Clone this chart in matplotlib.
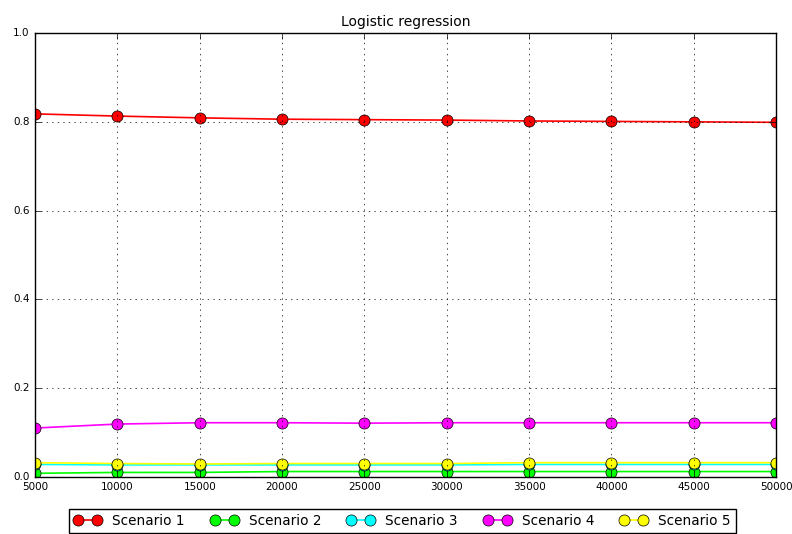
import matplotlib
matplotlib.use("Agg")
import matplotlib.pyplot as plt

plt.style.use('classic')

sizes = [5000, 10000, 15000, 20000, 25000, 30000, 35000, 40000, 45000, 50000]
scenario1 = [0.818, 0.813, 0.809, 0.806, 0.805, 0.804, 0.802, 0.801, 0.800, 0.799]
scenario2 = [0.008, 0.010, 0.010, 0.012, 0.012, 0.012, 0.012, 0.012, 0.012, 0.012]
scenario3 = [0.028, 0.027, 0.027, 0.027, 0.027, 0.027, 0.028, 0.028, 0.028, 0.028]
scenario4 = [0.110, 0.119, 0.122, 0.122, 0.121, 0.122, 0.122, 0.122, 0.122, 0.122]
scenario5 = [0.032, 0.030, 0.029, 0.030, 0.030, 0.030, 0.032, 0.032, 0.032, 0.032]

labels = ["Scenario 1", "Scenario 2", "Scenario 3", "Scenario 4", "Scenario 5"]
colors = ["#ff0000", "#00ff00", "#00ffff", "#ff00ff", "#ffff00"]
series = [scenario1, scenario2, scenario3, scenario4, scenario5]

fig = plt.figure(figsize=(7.92, 5.34), dpi=100, facecolor='white')
ax = fig.add_axes([0.0442, 0.107, 0.9358, 0.831])
for vals, lab, c in zip(series, labels, colors):
    ax.plot(sizes, vals, '-o', color=c, markerfacecolor=c, markeredgecolor='black',
            markersize=8, linewidth=1.2, label=lab)

ax.set_xlim(5000, 50000)
ax.set_ylim(0.0, 1.0)
ax.set_xticks(sizes)
ax.set_yticks([0.0, 0.2, 0.4, 0.6, 0.8, 1.0])
ax.tick_params(labelsize=7.5)
ax.grid(True)
ax.set_title("Logistic regression", fontsize=10)
ax.legend(loc='upper center', bbox_to_anchor=(0.496, -0.056), ncol=5, numpoints=2,
          fontsize=9.8, columnspacing=1.9, frameon=True)

fig.savefig("out.png", dpi=100, facecolor='white')
